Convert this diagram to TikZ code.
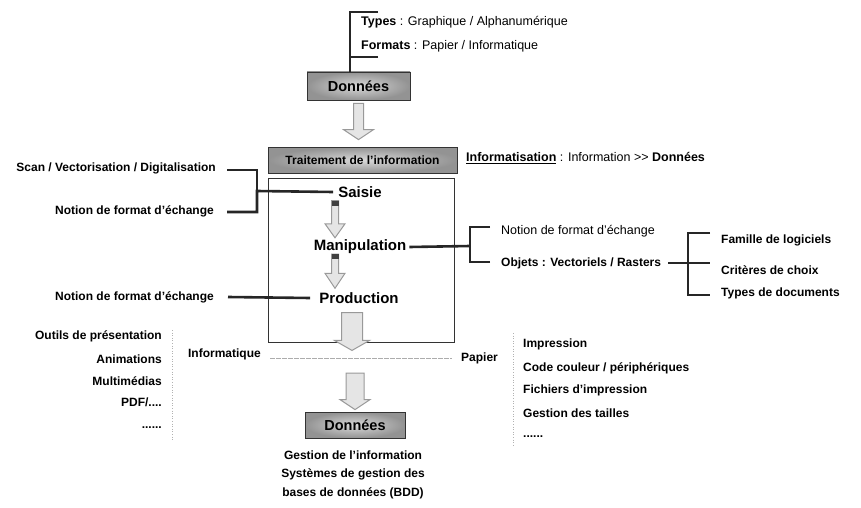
\documentclass[tikz,border=0pt]{standalone}
\usepackage{fontspec}
\setmainfont{Liberation Sans}
\usetikzlibrary{calc,positioning}

% wide hollow arrow: tail, tip (only its height counts), shaft half width, head half width, head length
\newcommand{\bigarrow}[5]{%
  \draw[blockarrow] let \p1=#1, \p2=#2 in
    (\x1-#3,\y1) -- (\x1+#3,\y1) -- (\x1+#3,\y2+#5) -- (\x1+#4,\y2+#5)
    -- (\x1,\y2) -- (\x1-#4,\y2+#5) -- (\x1-#3,\y2+#5) -- cycle;}
% same with a dark cap on top of the shaft
\newcommand{\cappedarrow}[5]{%
  \bigarrow{#1}{#2}{#3}{#4}{#5}
  \fill[black!75] let \p1=#1 in (\x1-#3,\y1) rectangle (\x1+#3,\y1-5pt);}

\begin{document}
\begin{tikzpicture}[x=1pt, y=-1pt,
  databox/.style={draw=black!80, line width=0.8pt, shade, inner color=gray!30, outer color=gray!85,
    font=\bfseries\fontsize{14.5}{16}\selectfont, minimum width=103pt, minimum height=28pt, inner sep=0pt},
  headbox/.style={databox, font=\bfseries\fontsize{12}{14}\selectfont, minimum width=189pt, minimum height=26pt},
  stage/.style={font=\bfseries\fontsize{15}{17}\selectfont, inner sep=1pt},
  lbl/.style={font=\bfseries\fontsize{12}{14}\selectfont, inner sep=1pt},
  note/.style={font=\fontsize{12.5}{14}\selectfont, inner sep=1pt},
  link/.style={draw=black!85, line width=1.5pt},
  heavylink/.style={draw=black!85, line width=2.6pt},
  dotline/.style={draw=gray!60, line width=0.6pt, dotted},
  dashline/.style={draw=gray!65, line width=0.6pt, dash pattern=on 5pt off 1pt},
  blockarrow/.style={draw=gray!80, line width=1pt, fill=gray!20, line join=miter}
]
  \useasboundingbox (0,0) rectangle (861,508);

  % incoming data
  \node[note, anchor=west] (types) at (360,22) {\textbf{Types} : Graphique / Alphanum\'erique};
  \node[note, anchor=west] (formats) at (360,46) {\textbf{Formats} : Papier / Informatique};
  \node[databox] (don1) at (358.5,86) {Donn\'ees};
  \coordinate (brtop) at (350,12);
  \coordinate (brbot) at (350,57);
  \draw[link, line width=1.3pt] ($(brtop)+(28,0)$) -- (brtop) -- (brtop |- don1.north);
  \draw[link, line width=1.3pt] ($(brbot)+(28,0)$) -- (brbot);

  \node[headbox] (trait) at (362.5,160) {Traitement de l'information};
  \node[note, anchor=west] (infos) at (465,158)
    {\underline{\textbf{Informatisation}} : Information >\kern0pt> \textbf{Donn\'ees}};
  \bigarrow{($(don1.south)+(0,3)$)}{($(trait.north)+(0,-7)$)}{5pt}{15pt}{10pt}

  % processing frame
  \node[draw=black!80, line width=0.9pt, minimum width=186pt, minimum height=164pt, inner sep=0pt] (cadre) at (361,260) {};
  \node[stage] (saisie) at (360,192) {Saisie};
  \node[stage] (manip) at (360,247) {Manipulation};
  \node[stage] (prod) at (359,298) {Production};
  \cappedarrow{($(saisie.south)+(-25,2)$)}{($(manip.north)+(0,-1)$)}{3.5pt}{10pt}{14pt}
  \cappedarrow{($(manip.south)+(-25,-1)$)}{($(prod.north)+(0,-3)$)}{3.5pt}{10pt}{15pt}

  % left notes
  \node[lbl, anchor=east] (scan) at (217,168) {Scan / Vectorisation / Digitalisation};
  \node[lbl, anchor=east] (notionl) at (215,211) {Notion de format d'\'echange};
  \node[lbl, anchor=east] (notionp) at (215,297) {Notion de format d'\'echange};
  \coordinate (sj) at (257,191);
  \draw[link] ($(scan.east)+(10,2)$) -| (sj);
  \draw[heavylink] ($(notionl.east)+(12,1)$) -| (sj) -- ([xshift=-4pt]saisie.west);
  \draw[heavylink] ($(notionp.east)+(13,0)$) -- ([xshift=-8pt]prod.west);

  % right notes
  \node[note, anchor=west] (notionr) at (500,231) {Notion de format d'\'echange};
  \node[lbl, anchor=west] (objets) at (500,263) {Objets : Vectoriels / Rasters};
  \coordinate (mj) at (470,246);
  \draw[heavylink] ([xshift=2pt]manip.east) -- (mj);
  \draw[link] ($(notionr.west)+(-10,-4)$) -| (mj);
  \draw[heavylink] ($(objets.west)+(-10,-1)$) -| (mj);

  \node[lbl, anchor=west] (famille) at (720,240) {Famille de logiciels};
  \node[lbl, anchor=west] (criteres) at (720,270) {Crit\`eres de choix};
  \node[lbl, anchor=west] (typesdoc) at (720,293) {Types de documents};
  \coordinate (oj) at (688,263);
  \draw[link] ($(objets.east)+(6,0)$) -- ($(oj)+(22,0)$);
  \draw[link] ($(famille.west)+(-10,-7)$) -| (oj) |- ($(typesdoc.west)+(-10,2)$);

  % output side
  \node[lbl, anchor=east] (informatique) at (262,354) {Informatique};
  \node[lbl, anchor=west] (papier) at (460,358) {Papier};
  \draw[dashline] ($(informatique.east)+(8,4)$) -- coordinate[pos=0.5] (sepmid) ($(papier.west)+(-8,0)$);
  \bigarrow{($(prod.south)+(-7,8)$)}{($(cadre.south)+(0,8)$)}{10.5pt}{17.5pt}{10pt}

  \node[lbl, anchor=east] (outils) at (163,336) {Outils de pr\'esentation};
  \node[lbl, anchor=east] (anim) at (163,359) {Animations};
  \node[lbl, anchor=east] (multi) at (163,381) {Multim\'edias};
  \node[lbl, anchor=east] (pdf) at (163,402) {PDF/....};
  \node[lbl, anchor=east] (etcl) at (163,428) {......};
  \draw[dotline] (172,330) -- (172,440);

  \node[lbl, anchor=west] (impression) at (522,344) {Impression};
  \node[lbl, anchor=west] (couleur) at (522,368) {Code couleur / p\'eriph\'eriques};
  \node[lbl, anchor=west] (fichiers) at (522,390) {Fichiers d'impression};
  \node[lbl, anchor=west] (tailles) at (522,413) {Gestion des tailles};
  \node[lbl, anchor=west] (etcr) at (522,437) {......};
  \draw[dotline] (513,333) -- (513,445);

  % outgoing data
  \node[databox, minimum width=100pt, minimum height=26pt] (don2) at (355,425) {Donn\'ees};
  \bigarrow{($(sepmid -| don2.north)+(0,15)$)}{($(don2.north)+(0,-2)$)}{9pt}{15pt}{10pt}
  \node[lbl] (gestion) at (353,455) {Gestion de l'information};
  \node[lbl, align=center, font=\bfseries\fontsize{12}{19}\selectfont] (sgbd) at (353,484)
    {Syst\`emes de gestion des\\bases de donn\'ees (BDD)};
\end{tikzpicture}
\end{document}
